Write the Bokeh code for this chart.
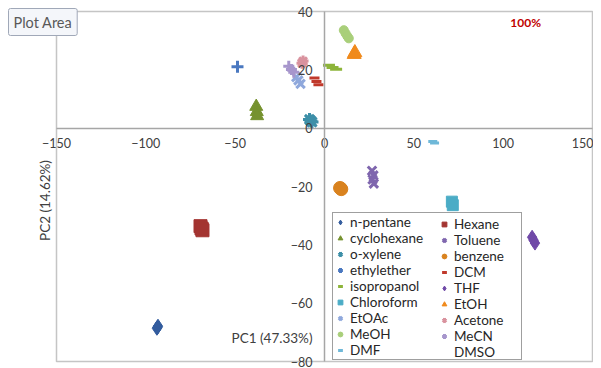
from bokeh.plotting import figure
from bokeh.models import Range1d, FixedTicker, Label, Legend, LegendItem, BoxAnnotation
from bokeh.embed import file_html
from bokeh.resources import INLINE
import math

# ---- data ----
x_lim = (-150, 150)
y_lim = (-80, 40)
x_ticks = [-150, -100, -50, 0, 50, 100, 150]
y_ticks = [-80, -60, -40, -20, 0, 20, 40]

solvents = ["n-pentane", "Hexane", "cyclohexane", "Toluene", "o-xylene", "benzene",
            "ethylether", "DCM", "isopropanol", "THF", "Chloroform", "EtOH",
            "EtOAc", "Acetone", "MeOH", "MeCN", "DMF", "DMSO"]

npentane_x = [-93.8, -93.2, -93.5]
npentane_y = [-68.6, -67.9, -68.3]
hexane_x = [-69.4, -68.8, -68.3]
hexane_y = [-33.6, -34.4, -35.0]
cyclohexane_x = [-38.2, -37.9, -37.7]
cyclohexane_y = [7.4, 5.6, 4.2]
toluene_x = [26.6, 27.4, 26.9, 27.6]
toluene_y = [-14.6, -16.2, -17.6, -19.0]
oxylene_x = [-8.4, -7.6, -7.0]
oxylene_y = [3.0, 2.5, 2.1]
benzene_x = [8.7, 9.4]
benzene_y = [-20.5, -20.9]
ethylether_x = [-48.7]
ethylether_y = [21.1]
dcm_x = [-5.6, -4.5, -3.4]
dcm_y = [17.2, 16.0, 14.9]
isopropanol_x = [2.5, 4.5, 6.5]
isopropanol_y = [21.6, 20.8, 20.2]
thf_x = [116.2, 117.0, 117.8]
thf_y = [-37.4, -38.4, -39.4]
chloroform_x = [71.3, 71.8]
chloroform_y = [-25.2, -26.4]
etoh_x = [16.6, 17.0]
etoh_y = [25.3, 25.9]
etoac_x = [-13.4, -14.6, -15.8]
etoac_y = [15.2, 16.4, 17.5]
acetone_x = [-12.6, -12.0]
acetone_y = [22.3, 23.0]
meoh_x = [10.8, 11.8, 12.8, 13.6]
meoh_y = [33.6, 32.5, 31.5, 30.8]
mecn_x = [-20.0, -18.5, -17.2]
mecn_y = [21.2, 20.1, 19.2]
dmf_x = [60.6, 61.6]
dmf_y = [-4.6, -5.1]
dmso_x = []
dmso_y = []

series_x = [npentane_x, hexane_x, cyclohexane_x, toluene_x, oxylene_x, benzene_x,
            ethylether_x, dcm_x, isopropanol_x, thf_x, chloroform_x, etoh_x,
            etoac_x, acetone_x, meoh_x, mecn_x, dmf_x, dmso_x]
series_y = [npentane_y, hexane_y, cyclohexane_y, toluene_y, oxylene_y, benzene_y,
            ethylether_y, dcm_y, isopropanol_y, thf_y, chloroform_y, etoh_y,
            etoac_y, acetone_y, meoh_y, mecn_y, dmf_y, dmso_y]

# ---- styles ----
markers = ["diamond", "square", "triangle", "x", "asterisk", "circle",
           "cross", "dash", "dash", "diamond", "square", "triangle",
           "x", "asterisk", "circle", "cross", "dash", "dash"]
colors = ["#335C9E", "#A33431", "#76922F", "#7F66AE", "#3D8FA8", "#D9821E",
          "#4A78C0", "#C0392B", "#8DB43A", "#7049A8", "#4BACC6", "#F08A1C",
          "#8FA8DC", "#D9929E", "#A9CF7A", "#A796CC", "#6FB8D8", "#F4A460"]
sizes = [14, 13, 13, 12, 13, 13, 12, 10, 12, 14, 11, 14, 12, 11, 9, 11, 9, 9]
line_markers = {"x", "asterisk", "cross", "dash"}

FONT = "Lato"
W, H = 593, 368
# frame fills the whole canvas; the outlined plot area sits at px 56..592 x 11..361
PX_L, PX_R, PX_T, PX_B = 56, 592, 11, 361
sx = (PX_R - PX_L) / (x_lim[1] - x_lim[0])
sy = (PX_B - PX_T) / (y_lim[1] - y_lim[0])
xr = Range1d(x_lim[0] - PX_L / sx, x_lim[1] + (W - PX_R) / sx)
yr = Range1d(y_lim[0] - (H - PX_B) / sy, y_lim[1] + PX_T / sy)

p = figure(width=W, height=H, output_backend="svg", toolbar_location=None,
           x_range=xr, y_range=yr, min_border=0,
           min_border_left=0, min_border_right=0, min_border_top=0, min_border_bottom=0)
p.grid.visible = False
p.outline_line_color = None
p.background_fill_color = "white"
p.border_fill_color = "white"

for ax, ticks, lim in ((p.xaxis[0], x_ticks, x_lim), (p.yaxis[0], y_ticks, y_lim)):
    ax.fixed_location = 0
    ax.bounds = lim
    ax.ticker = FixedTicker(ticks=ticks)
    ax.axis_line_color = "#A6A6A6"
    ax.axis_line_width = 1.5
    ax.major_tick_line_color = None
    ax.minor_tick_line_color = None
    ax.major_tick_out = 0
    ax.major_tick_in = 0
    ax.major_label_text_font = FONT
    ax.major_label_text_font_size = "12.5px"
    ax.major_label_text_color = "#404040"
p.xaxis[0].major_label_standoff = 10
p.yaxis[0].major_label_standoff = 12

# plot-area border
p.add_layout(BoxAnnotation(left=x_lim[0], right=x_lim[1], bottom=y_lim[0], top=y_lim[1],
                           fill_color=None, line_color="#404040", line_width=1.5,
                           level="underlay"))

renderers = []
for name, xs, ys, m, c, s in zip(solvents, series_x, series_y, markers, colors, sizes):
    lw = 3 if m in line_markers else 1
    r = p.scatter(xs, ys, marker=m, size=s, fill_color=c, line_color=c, line_width=lw)
    renderers.append(r)

left_items = [LegendItem(label=n, renderers=[r]) for n, r in zip(solvents[0::2], renderers[0::2])]
right_items = [LegendItem(label=n, renderers=[r]) for n, r in zip(solvents[1::2], renderers[1::2])]

common = dict(label_text_font=FONT, label_text_font_size="13.5px", label_text_color="#262626",
              glyph_width=12, glyph_height=12, label_standoff=4, label_height=16,
              spacing=0, padding=1, margin=0)
leg1 = Legend(items=left_items, location=(332, 8), label_width=170,
              border_line_color="#404040", border_line_width=1.2,
              background_fill_color="white", background_fill_alpha=1.0, **common)
leg2 = Legend(items=right_items, location=(438, 8), label_width=60,
              border_line_color=None, background_fill_alpha=0.0, **common)
p.add_layout(leg1, "center")
p.add_layout(leg2, "center")

p.add_layout(Label(x=-6.7, y=-72.1, text="PC1 (47.33%)", text_align="right",
                   text_baseline="middle", text_font=FONT, text_font_size="13.5px",
                   text_color="#404040"))
p.add_layout(Label(x=xr.start + 44 / sx, y=y_lim[1] - (200 - PX_T) / sy, text="PC2 (14.62%)",
                   angle=math.pi / 2, text_align="center", text_baseline="middle",
                   text_font=FONT, text_font_size="13.5px", text_color="#404040"))
p.add_layout(Label(x=104, y=36.2, text="100%", text_align="left",
                   text_baseline="middle", text_font=FONT, text_font_size="12px",
                   text_font_style="bold", text_color="#C00000"))
p.add_layout(Label(x=xr.start + 8 / sx, y=yr.end - 8 / sy, text="Plot Area", text_align="left",
                   text_baseline="top", text_font=FONT, text_font_size="14.5px",
                   text_color="#595959", background_fill_color="#F4F6FA",
                   border_line_color="#A0A8B8", border_line_width=1,
                   padding=5, border_radius=2))

open("out.html", "w").write(file_html(p, INLINE))
